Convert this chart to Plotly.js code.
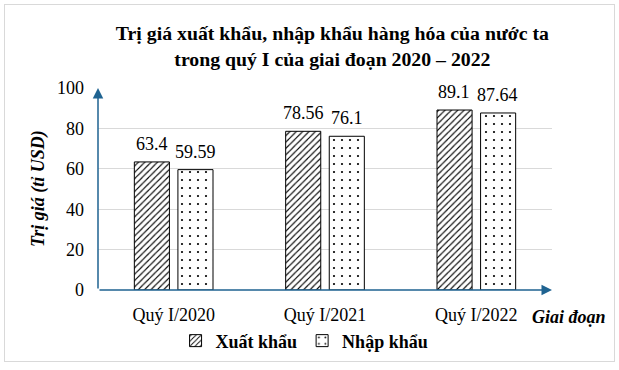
<!DOCTYPE html>
<html>
<head>
<meta charset="utf-8">
<script src="https://cdn.plot.ly/plotly-3.0.1.min.js"></script>
<style>
html,body{margin:0;padding:0;background:#fff;}
#wrap{position:relative;width:619px;height:370px;}
#chart{position:absolute;left:0;top:0;width:619px;height:370px;}
#frame{position:absolute;left:4px;top:4px;width:609px;height:356px;border:1px solid #d9d9d9;pointer-events:none;}
</style>
</head>
<body>
<div id="wrap"><div id="chart"></div><div id="frame"></div></div>
<script>
const categories = ["Quý I/2020", "Quý I/2021", "Quý I/2022"];
const exportValues = [63.4, 78.56, 89.1];
const importValues = [59.59, 76.1, 87.64];
const exportLabels = ["63.4", "78.56", "89.1"];
const importLabels = ["59.59", "76.1", "87.64"];
const seriesNames = ["Xuất khẩu", "Nhập khẩu"];
const yTicks = [0, 20, 40, 60, 80, 100];

const serif = "Liberation Serif";
const axisColor = "#1f6391";

const traces = [
  {
    type: "bar", name: seriesNames[0], x: categories, y: exportValues,
    marker: {color: "#ffffff", line: {color: "#000", width: 1},
      pattern: {shape: "/", size: 4.5, solidity: 0.25, fgcolor: "#000", bgcolor: "#fff"}},
    hoverinfo: "skip"
  },
  {
    type: "bar", name: seriesNames[1], x: categories, y: importValues,
    marker: {color: "#ffffff", line: {color: "#000", width: 1},
      pattern: {shape: ".", size: 8, solidity: 0.06, fgcolor: "#000", bgcolor: "#fff"}},
    hoverinfo: "skip"
  }
];

const annotations = [];
categories.forEach((c, i) => {
  annotations.push({x: c, y: exportValues[i], xref: "x", yref: "y", text: exportLabels[i],
    showarrow: false, yanchor: "bottom", xshift: -22, yshift: 6,
    font: {family: serif, size: 18, color: "#000"}});
  annotations.push({x: c, y: importValues[i], xref: "x", yref: "y", text: importLabels[i],
    showarrow: false, yanchor: "bottom", xshift: 21.5, yshift: 6,
    font: {family: serif, size: 18, color: "#000"}});
});
// axis arrows
annotations.push({x: -0.5, y: 100, ax: -0.5, ay: 0, xref: "x", yref: "y", axref: "x", ayref: "y",
  text: "", showarrow: true, arrowhead: 2, arrowsize: 1.4, arrowwidth: 1.5, arrowcolor: axisColor, standoff: 0});
annotations.push({x: 2.5, y: 0, ax: -0.5, ay: 0, xref: "x", yref: "y", axref: "x", ayref: "y",
  text: "", showarrow: true, arrowhead: 2, arrowsize: 1.4, arrowwidth: 1.5, arrowcolor: axisColor, standoff: 0});
// axis titles
annotations.push({x: -0.132, y: 0.5, xref: "paper", yref: "paper", text: "<b><i>Trị giá (tỉ USD)</i></b>",
  textangle: -90, showarrow: false, xanchor: "center", yanchor: "middle",
  font: {family: serif, size: 18, color: "#000"}});
annotations.push({x: 1.037, y: -0.133, xref: "paper", yref: "paper", text: "<b><i>Giai đoạn</i></b>",
  showarrow: false, xanchor: "center", yanchor: "middle",
  font: {family: serif, size: 18, color: "#000"}});

const layout = {
  width: 619, height: 370,
  font: {family: serif, color: "#000"},
  margin: {l: 98, r: 67, t: 88, b: 79, pad: 0},
  paper_bgcolor: "#fff", plot_bgcolor: "#fff",
  title: {text: "<b>Trị giá xuất khẩu, nhập khẩu hàng hóa của nước ta<br>trong quý I của giai đoạn 2020 – 2022</b>",
    font: {family: serif, size: 19.8, color: "#000"},
    x: 0.537, xanchor: "center", xref: "container", y: 0.892, yanchor: "top", yref: "container"},
  barmode: "group", bargap: 0.424, bargroupgap: 0.195,
  xaxis: {range: [-0.5, 2.5], showline: false, showgrid: false, zeroline: false, ticks: "",
    tickfont: {family: serif, size: 18, color: "#000"}, ticklabelstandoff: 12, fixedrange: true},
  yaxis: {range: [0, 100], tickvals: yTicks, showline: false, showgrid: true, gridcolor: "#d9d9d9", gridwidth: 1,
    zeroline: false, ticks: "", tickfont: {family: serif, size: 18, color: "#000"}, ticklabelstandoff: 13, fixedrange: true},
  showlegend: true,
  legend: {orientation: "h", x: 0.455, xanchor: "center", y: -0.246, yanchor: "middle",
    font: {family: serif, size: 18, color: "#000", weight: "bold"}, traceorder: "normal", itemwidth: 30,
    bgcolor: "rgba(0,0,0,0)"},
  annotations: annotations
};

Plotly.newPlot("chart", traces, layout, {displayModeBar: false, staticPlot: true});
</script>
</body>
</html>
